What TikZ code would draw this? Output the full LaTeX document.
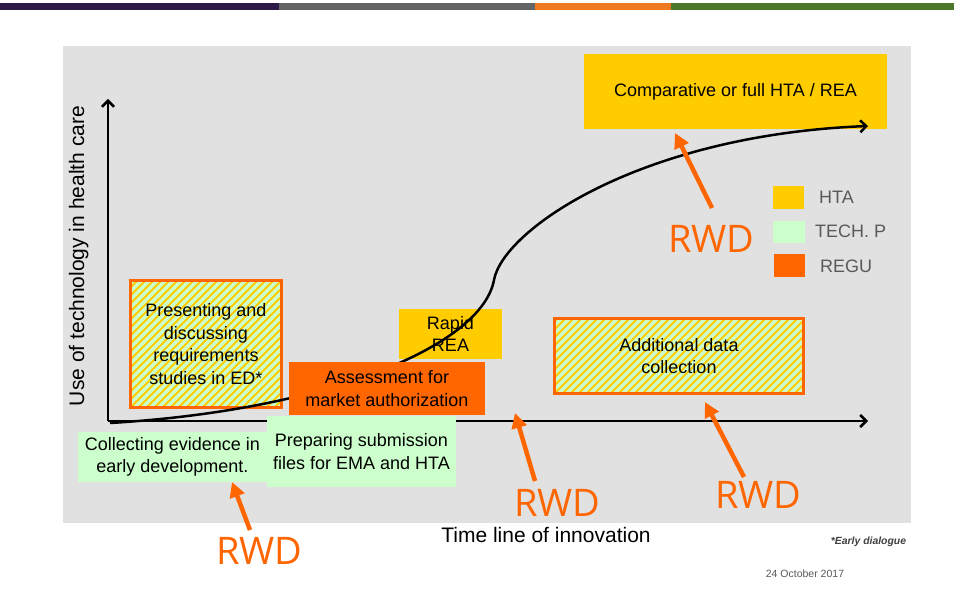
\documentclass[tikz,border=0pt]{standalone}
\usepackage{fontspec}
\setmainfont{Liberation Sans}
\newfontfamily\rwdfont{Open Sans}
\usetikzlibrary{arrows.meta}
\definecolor{panel}{HTML}{E1E1E1}
\definecolor{yel}{HTML}{FFCC00}
\definecolor{lgreen}{HTML}{CCFFCC}
\definecolor{orng}{HTML}{FF6600}
\definecolor{barpurple}{HTML}{2E1A47}
\definecolor{bargray}{HTML}{636466}
\definecolor{barorange}{HTML}{F07A22}
\definecolor{bargreen}{HTML}{4A7729}
\definecolor{legtext}{HTML}{595959}
\tikzset{
  bodytext/.style={font=\fontsize{18}{22.5}\selectfont, align=center, text=black},
  solidbox/.style={bodytext, inner sep=0pt, outer sep=0pt},
  hatchbox/.style={bodytext, inner sep=0pt, draw=orng, line width=3pt, fill=lgreen,
    path picture={\foreach \k in {-40,...,60}{\draw[yel, line width=2.1pt] ([xshift=\k*8pt]path picture bounding box.south west) -- ++(220,-220);}}},
  legsq/.style={inner sep=0pt, minimum width=31pt, minimum height=23pt},
  legtxt/.style={font=\fontsize{18}{18}\selectfont, text=legtext, anchor=base west, inner sep=0pt},
  rwdlabel/.style={font=\rwdfont\fontsize{38}{38}\selectfont, text=orng, anchor=base, inner sep=0pt},
  rwdarrow/.style={draw=orng, line width=4.5pt, -{Triangle[length=15pt,width=15pt]}},
  axisline/.style={line width=2.5pt, -{Straight Barb[length=6pt,width=12pt]}},
  curveline/.style={line width=2.5pt, -{Straight Barb[length=6pt,width=12pt]}},
  smalltxt/.style={inner sep=0pt, anchor=base}
}
\begin{document}
\begin{tikzpicture}[x=1pt,y=-1pt]
\path[use as bounding box, fill=white] (0,0) rectangle (954,593);
% top bars
\fill[barpurple] (0,3) rectangle (279,10);
\fill[bargray] (279,3) rectangle (535,10);
\fill[barorange] (535,3) rectangle (671,10);
\fill[bargreen] (671,3) rectangle (954,10);
% panel
\fill[panel] (63,46) rectangle (911,523);
% top box
\node[solidbox, fill=yel, minimum width=303pt, minimum height=75pt] (cmp) at (735.5,91.5) {Comparative or full HTA / REA};
% legend
\node[legsq, fill=yel] (lhta) at (788.5,197.5) {};
\node[legsq, fill=lgreen, minimum width=32pt, minimum height=22pt] (ltech) at (789,232) {};
\node[legsq, fill=orng] (lregu) at (789.5,265.5) {};
\node[legtxt] (thta) at (819,204) {HTA};
\node[legtxt] (ttech) at (815,238) {TECH. P};
\node[legtxt] (tregu) at (820,272.5) {REGU};
% presenting box
\node[hatchbox, minimum width=151pt, minimum height=127pt] (pres) at (206,344) {Presenting and\\discussing\\requirements\\studies in ED*};
% rapid REA
\node[solidbox, fill=yel, minimum width=103pt, minimum height=50pt] (rapid) at (450.5,334) {Rapid\\REA};
% curve
\draw[curveline] (110,423) .. controls (330,410) and (482,345) .. (494,280) .. controls (503,230) and (640,135) .. (868,126);
% axes
\coordinate (origin) at (108,421);
\coordinate (ytop) at (108,99);
\coordinate (xend) at (868,421);
\draw[axisline] (origin) -- (ytop);
\draw[axisline] (origin) -- (xend);
\node[rotate=90, anchor=base, inner sep=0pt, font=\fontsize{21}{21}\selectfont] (ylab) at (84,256) {Use of technology in health care};
% assessment
\node[solidbox, fill=orng, minimum width=196pt, minimum height=53pt] (assess) at (387,388.5) {Assessment for\\market authorization};
% collecting
\node[solidbox, fill=lgreen, minimum width=189pt, minimum height=50pt] (collect) at (172.5,457) {Collecting evidence in\\early development.};
% preparing
\node[solidbox, fill=lgreen, minimum width=189pt, minimum height=71pt] (prep) at (361.5,451.5) {Preparing submission\\files for EMA and HTA};
% additional
\node[hatchbox, minimum width=249pt, minimum height=75pt] (addl) at (679,356) {Additional data\\collection};
% RWD labels
\node[rwdlabel] (rwd1) at (711.5,253) {RWD};
\node[rwdlabel] (rwd2) at (259.5,565) {RWD};
\node[rwdlabel] (rwd3) at (557.5,517) {RWD};
\node[rwdlabel] (rwd4) at (758.5,509) {RWD};
\coordinate (t1) at (712,208); \coordinate (h1) at (675,133);
\coordinate (t2) at (250,530); \coordinate (h2) at (232,482);
\coordinate (t3) at (535,481); \coordinate (h3) at (515,413);
\coordinate (t4) at (744,477); \coordinate (h4) at (705,402);
\draw[rwdarrow] (t1) -- (h1);
\draw[rwdarrow] (t2) -- (h2);
\draw[rwdarrow] (t3) -- (h3);
\draw[rwdarrow] (t4) -- (h4);
% bottom texts
\node[smalltxt, font=\fontsize{21}{21}\selectfont] (timeline) at (546,543) {Time line of innovation};
\node[smalltxt, font=\fontsize{10.4}{10.4}\selectfont\bfseries\itshape, text=black!75] (early) at (868.5,544) {*Early dialogue};
\node[smalltxt, font=\fontsize{10.5}{10.5}\selectfont, text=legtext] (date) at (805,577) {24 October 2017};
\end{tikzpicture}
\end{document}
